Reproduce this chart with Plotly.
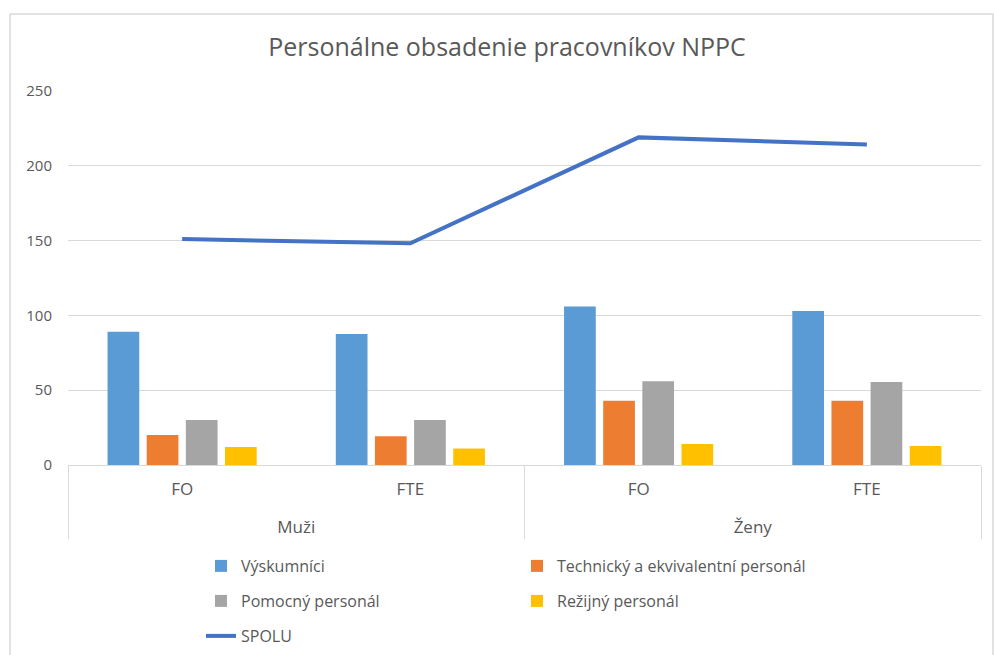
import plotly.graph_objects as go

groups = ["Muži", "Muži", "Ženy", "Ženy"]
subcats = ["FO", "FTE", "FO", "FTE"]

vyskumnici = [89, 87.6, 106, 103]
technicky = [20, 19.2, 43, 43]
pomocny = [30, 30, 56, 55.5]
rezijny = [12, 11, 14, 12.7]
spolu = [151, 148.2, 219, 214.2]

series_names = ["Výskumníci", "Technický a ekvivalentní personál",
                "Pomocný personál", "Režijný personál", "SPOLU"]
title = "Personálne obsadenie pracovníkov NPPC"
FONT = "Open Sans"
TXT = "#595959"

# inner labels get an empty second line so the outer level sits lower, as in Excel
x = [groups, [s + "<br> " for s in subcats]]

fig = go.Figure()
bar_series = [
    (series_names[0], vyskumnici, "#5B9BD5", "legend"),
    (series_names[1], technicky, "#ED7D31", "legend"),
    (series_names[2], pomocny, "#A5A5A5", "legend2"),
    (series_names[3], rezijny, "#FFC000", "legend2"),
]
for name, vals, col, lg in bar_series:
    fig.add_trace(go.Bar(x=x, y=vals, name=name, marker_color=col,
                         marker_line_width=0, legend=lg, hoverinfo="y+name"))
fig.add_trace(go.Scatter(x=x, y=spolu, name=series_names[4], mode="lines",
                         line=dict(color="#4472C4", width=4), legend="legend3",
                         hoverinfo="y+name"))

W, H = 994, 655
L, R, T, B = 68, 13, 91, 190
pw = W - L - R
ph = H - T - B

def px(xp):
    return (xp - L) / pw

def py(yp):
    return (H - B - yp) / ph

leg_common = dict(orientation="h", entrywidth=271, entrywidthmode="pixels",
                  font=dict(family=FONT, size=16, color=TXT),
                  xanchor="left", yanchor="middle", bgcolor="rgba(0,0,0,0)",
                  itemclick=False)

fig.update_layout(
    width=W, height=H,
    margin=dict(l=L, r=R, t=T, b=B, autoexpand=False),
    paper_bgcolor="white", plot_bgcolor="white",
    barmode="group", bargap=0.314, bargroupgap=0.19,
    title=dict(text=title, x=507 / W, xanchor="center", y=1 - 47 / H, yanchor="middle",
               font=dict(family=FONT, size=25, color=TXT)),
    font=dict(family=FONT, color=TXT),
    legend=dict(x=px(201), y=py(566), **leg_common),
    legend2=dict(x=px(201), y=py(601), **leg_common),
    legend3=dict(x=px(201), y=py(636), **leg_common),
    xaxis=dict(type="multicategory", showline=True, linecolor="#D9D9D9", linewidth=1,
               tickfont=dict(family=FONT, size=17, color=TXT),
               showdividers=True, dividercolor="#D9D9D9", dividerwidth=1,
               ticks="", showgrid=False, automargin=False, ticklabelstandoff=9),
    yaxis=dict(range=[0, 250], tickvals=[0, 50, 100, 150, 200, 250],
               showgrid=True, gridcolor="#D9D9D9", gridwidth=1,
               zeroline=False, showline=False, automargin=False,
               tickfont=dict(family=FONT, size=15, color=TXT), ticklabelstandoff=15),
    shapes=[dict(type="rect", xref="paper", yref="paper",
                 x0=px(10), x1=px(993), y0=py(14), y1=py(700),
                 line=dict(color="#D9D9D9", width=1.5), fillcolor="rgba(0,0,0,0)",
                 layer="below")],
)

fig.write_html("out.html", config={"displayModeBar": False},
               post_script="document.body.style.margin='0';")
